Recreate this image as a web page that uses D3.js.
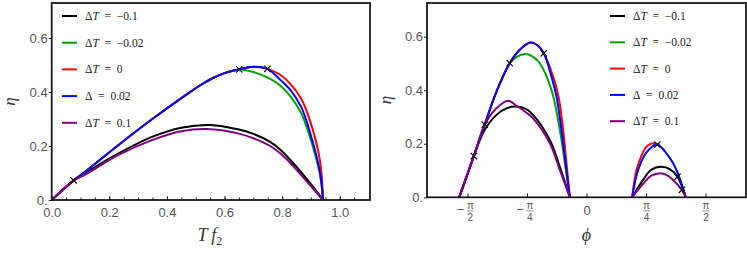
<!DOCTYPE html>
<html>
<head>
<meta charset="utf-8">
<script src="https://cdn.jsdelivr.net/npm/d3@7"></script>
<style>
body { margin: 0; background: #fff; }
.tick text { font-family: "Liberation Sans", Arial, sans-serif; font-size: 13px; fill: #555; }
.tick line { stroke: #222; }
</style>
</head>
<body>
<div id="fig"></div>
<script>
var width = 747
var height = 253

// legend / series
var seriesNames = ['ΔT = −0.1', 'ΔT = −0.02', 'ΔT = 0', 'Δ = 0.02', 'ΔT = 0.1'];
var seriesColors = ['#000000', '#00a400', '#ff0000', '#0000ff', '#800080'];

// left panel: eta vs T f2
var leftBlack = [[0,0],[0.076,0.072],[0.116,0.100],[0.232,0.173],[0.348,0.234],[0.45,0.268],[0.55,0.278],[0.65,0.261],[0.70,0.245],[0.757,0.216],[0.792,0.188],[0.827,0.150],[0.896,0.064],[0.942,0]];
var leftGreen = [[0,0],[0.076,0.072],[0.116,0.105],[0.232,0.204],[0.348,0.299],[0.48,0.400],[0.52,0.428],[0.56,0.452],[0.60,0.470],[0.651,0.484],[0.70,0.474],[0.757,0.450],[0.792,0.425],[0.827,0.387],[0.866,0.322],[0.896,0.235],[0.931,0.095],[0.942,0]];
var leftRed = [[0,0],[0.076,0.072],[0.116,0.105],[0.232,0.204],[0.348,0.299],[0.48,0.400],[0.52,0.428],[0.56,0.452],[0.60,0.470],[0.651,0.484],[0.70,0.494],[0.749,0.486],[0.792,0.465],[0.827,0.432],[0.866,0.375],[0.896,0.296],[0.931,0.148],[0.942,0]];
var leftBlue = [[0,0],[0.076,0.072],[0.116,0.105],[0.232,0.204],[0.348,0.299],[0.48,0.400],[0.52,0.428],[0.56,0.452],[0.60,0.470],[0.651,0.484],[0.70,0.494],[0.749,0.486],[0.792,0.447],[0.827,0.410],[0.866,0.345],[0.896,0.253],[0.931,0.105],[0.942,0]];
var leftPurple = [[0,0],[0.076,0.072],[0.116,0.094],[0.232,0.167],[0.348,0.222],[0.45,0.255],[0.54,0.263],[0.65,0.246],[0.70,0.229],[0.757,0.201],[0.792,0.174],[0.827,0.139],[0.896,0.056],[0.942,0]];
var leftMarkers = [[0.076,0.073],[0.651,0.484],[0.749,0.486]];

var leftXTicks = [0, 0.2, 0.4, 0.6, 0.8, 1.0];
var leftXLabels = ['0.0', '0.2', '0.4', '0.6', '0.8', '1.0'];
var leftXMinor = d3.range(0, 1.1, 0.05);
var yTicks = [0, 0.2, 0.4, 0.6];
var yLabels = ['0.', '0.2', '0.4', '0.6'];

// right panel: eta vs phi, two lobes per curve
var rightBlackA = [[-1.68,0],[-1.583,0.077],[-1.487,0.154],[-1.343,0.252],[-1.188,0.308],[-1.05,0.333],[-0.924,0.339],[-0.80,0.330],[-0.705,0.308],[-0.484,0.214],[-0.352,0.114],[-0.22,0]];
var rightBlackB = [[0.602,0],[0.747,0.065],[0.85,0.102],[0.989,0.114],[1.099,0.105],[1.20,0.077],[1.31,0]];
var rightGreenA = [[-1.68,0],[-1.583,0.077],[-1.487,0.154],[-1.343,0.272],[-1.188,0.395],[-1.013,0.501],[-0.92,0.525],[-0.80,0.535],[-0.70,0.524],[-0.616,0.501],[-0.462,0.401],[-0.352,0.252],[-0.285,0.127],[-0.22,0]];
var rightRedA = [[-1.68,0],[-1.583,0.077],[-1.487,0.154],[-1.343,0.272],[-1.188,0.395],[-1.013,0.501],[-0.88,0.551],[-0.739,0.578],[-0.652,0.569],[-0.564,0.538],[-0.44,0.451],[-0.369,0.376],[-0.308,0.252],[-0.264,0.127],[-0.22,0]];
var rightRedB = [[0.602,0],[0.66,0.102],[0.739,0.164],[0.80,0.192],[0.879,0.202],[0.935,0.198]];
var rightBlueA = [[-1.68,0],[-1.583,0.077],[-1.487,0.154],[-1.343,0.272],[-1.188,0.395],[-1.013,0.501],[-0.88,0.551],[-0.739,0.578],[-0.652,0.569],[-0.564,0.538],[-0.462,0.451],[-0.396,0.376],[-0.33,0.252],[-0.277,0.127],[-0.22,0]];
var rightBlueB = [[0.602,0],[0.681,0.102],[0.782,0.164],[0.88,0.192],[0.935,0.198],[1.00,0.183],[1.055,0.164],[1.143,0.127],[1.222,0.077],[1.31,0]];
var rightPurpleA = [[-1.68,0],[-1.583,0.077],[-1.487,0.154],[-1.343,0.272],[-1.188,0.333],[-1.035,0.361],[-0.924,0.342],[-0.792,0.316],[-0.705,0.295],[-0.484,0.202],[-0.352,0.102],[-0.22,0]];
var rightPurpleB = [[0.602,0],[0.747,0.050],[0.85,0.080],[0.976,0.090],[1.06,0.083],[1.143,0.065],[1.26,0.027],[1.31,0]];
var rightMarkers = [[-1.487,0.154],[-1.343,0.272],[-1.013,0.501],[-0.564,0.538],[0.935,0.197],[1.20,0.077],[1.26,0.028]];

var rightXTicks = [-Math.PI/2, -Math.PI/4, 0, Math.PI/4, Math.PI/2];
var rightXLabels = ['−π/2', '−π/4', '0', 'π/4', 'π/2'];

var svg = d3.select('#fig')
    .append('svg')
    .attr('width', width)
    .attr('height', height);

function drawPanel(p) {
    var g = svg.append('g');
    var x = d3.scaleLinear().domain(p.xDomain).range([p.left, p.right]);
    var y = d3.scaleLinear().domain(p.yDomain).range([p.bottom, p.top]);

    // y axis, ticks outside
    var yAxis = g.append('g')
        .attr('transform', 'translate(' + p.left + ',0)')
        .call(d3.axisLeft(y).tickValues(yTicks).tickSize(3).tickPadding(1)
            .tickFormat(function(d, i) { return yLabels[i]; }));
    yAxis.select('.domain').remove();

    // x axis, ticks inside
    if (p.minor) {
        var mAxis = g.append('g')
            .attr('transform', 'translate(0,' + p.bottom + ')')
            .call(d3.axisBottom(x).tickValues(p.minor).tickSize(-2.5).tickFormat(''));
        mAxis.select('.domain').remove();
    }
    var xAxis = g.append('g')
        .attr('transform', 'translate(0,' + p.bottom + ')')
        .call(d3.axisBottom(x).tickValues(p.xTicks).tickSize(-4).tickPadding(8)
            .tickFormat(function(d, i) { return p.fraction ? '' : p.xLabels[i]; }));
    xAxis.select('.domain').remove();

    if (p.fraction) {
        xAxis.selectAll('.tick').each(function(d, i) {
            var t = d3.select(this);
            var lab = p.xLabels[i];
            if (lab.indexOf('/') < 0) {
                t.append('text').attr('y', 17.5).attr('text-anchor', 'middle')
                    .style('font-family', '"Liberation Sans", Arial, sans-serif')
                    .style('font-size', '13px').style('fill', '#555').text(lab);
                return;
            }
            var neg = lab[0] === '−';
            var parts = lab.replace('−', '').split('/');
            var cx = neg ? 2.4 : 0;
            if (neg) {
                t.append('text').attr('x', -7.5).attr('y', 16.5).attr('text-anchor', 'middle')
                    .style('font-family', '"Liberation Sans", Arial, sans-serif')
                    .style('font-size', '13px').style('fill', '#555').text('−');
            }
            t.append('text').attr('x', cx).attr('y', 11.5).attr('text-anchor', 'middle')
                .style('font-family', '"Liberation Sans", Arial, sans-serif')
                .style('font-size', '10px').style('fill', '#555').text(parts[0]);
            t.append('line').attr('x1', cx - 3.5).attr('x2', cx + 3.5)
                .attr('y1', 13.6).attr('y2', 13.6).style('stroke', '#777').style('stroke-width', 0.8);
            t.append('text').attr('x', cx).attr('y', 23.5).attr('text-anchor', 'middle')
                .style('font-family', '"Liberation Sans", Arial, sans-serif')
                .style('font-size', '10px').style('fill', '#555').text(parts[1]);
        });
    }

    // curves
    var line = d3.line()
        .x(function(d) { return x(d[0]); })
        .y(function(d) { return y(d[1]); })
        .curve(d3.curveCatmullRom.alpha(0.5));
    p.series.forEach(function(segs, i) {
        segs.forEach(function(seg) {
            g.append('path')
                .datum(seg)
                .attr('d', line)
                .style('fill', 'none')
                .style('stroke', seriesColors[i])
                .style('stroke-width', 2);
        });
    });

    // markers
    g.selectAll('.mark')
        .data(p.markers)
        .enter().append('path')
        .attr('class', 'mark')
        .attr('d', function(d) {
            var cx = x(d[0]), cy = y(d[1]), s = 3.2;
            return 'M' + (cx - s) + ',' + (cy - s) + 'L' + (cx + s) + ',' + (cy + s) +
                'M' + (cx - s) + ',' + (cy + s) + 'L' + (cx + s) + ',' + (cy - s);
        })
        .style('stroke', '#111')
        .style('stroke-width', 1.2);

    // frame
    g.append('rect')
        .attr('x', p.left).attr('y', p.top)
        .attr('width', p.right - p.left).attr('height', p.bottom - p.top)
        .style('fill', 'none').style('stroke', '#1a1a1a').style('stroke-width', 1.8);

    // legend
    seriesNames.forEach(function(name, i) {
        var ly = p.legY + i * p.legStep;
        g.append('line')
            .attr('x1', p.legX).attr('x2', p.legX + 15)
            .attr('y1', ly).attr('y2', ly)
            .style('stroke', seriesColors[i]).style('stroke-width', 2);
        var txt = g.append('text')
            .attr('x', p.legX + 23).attr('y', ly + 4)
            .style('font-family', '"Liberation Serif", "DejaVu Serif", serif')
            .style('font-size', '11.5px').style('fill', '#222');
        var bits = name.split('T');
        txt.append('tspan').text(bits[0]);
        if (bits.length > 1) {
            txt.append('tspan').style('font-style', 'italic').text('T');
            txt.append('tspan').text(bits[1].replace(' = ', '\u2002=\u2002'));
        } else {
            txt.text(name.replace(' = ', '\u2002=\u2002'));
        }
    });

    // axis labels
    g.append('text')
        .attr('transform', 'translate(' + p.yLabX + ',' + ((p.top + p.bottom) / 2) + ') rotate(-90)')
        .attr('text-anchor', 'middle')
        .style('font-family', '"Liberation Serif", "DejaVu Serif", serif')
        .style('font-style', 'italic').style('font-size', '17px').style('fill', '#333')
        .text('η');
    var xl = g.append('text')
        .attr('x', (p.left + p.right) / 2 + p.xLabShift).attr('y', 241)
        .attr('text-anchor', 'middle')
        .style('font-family', '"Liberation Serif", "DejaVu Serif", serif')
        .style('font-size', '18px').style('fill', '#333');
    p.xLabel(xl);
}

drawPanel({
    left: 51.7, right: 370, top: 3, bottom: 200,
    xDomain: [0, 1.105], yDomain: [0, 0.73],
    xTicks: leftXTicks, xLabels: leftXLabels, minor: leftXMinor,
    series: [[leftBlack], [leftGreen], [leftRed], [leftBlue], [leftPurple]],
    markers: leftMarkers,
    legX: 62, legY: 16, legStep: 26.7,
    yLabX: 15, xLabShift: -1,
    xLabel: function(t) {
        t.append('tspan').style('font-style', 'italic').text('T\u2009f');
        t.append('tspan').attr('dy', 4).style('font-size', '12px').text('2');
    }
});

drawPanel({
    left: 427, right: 746, top: 3, bottom: 197.3,
    xDomain: [-2.105, 2.105], yDomain: [0, 0.726],
    xTicks: rightXTicks, xLabels: rightXLabels, fraction: true,
    series: [[rightBlackA, rightBlackB], [rightGreenA], [rightRedA, rightRedB], [rightBlueA, rightBlueB], [rightPurpleA, rightPurpleB]],
    markers: rightMarkers,
    legX: 610, legY: 16, legStep: 26.3,
    yLabX: 391, xLabShift: 0,
    xLabel: function(t) {
        t.append('tspan').style('font-style', 'italic').text('ϕ');
    }
});
</script>
</body>
</html>
